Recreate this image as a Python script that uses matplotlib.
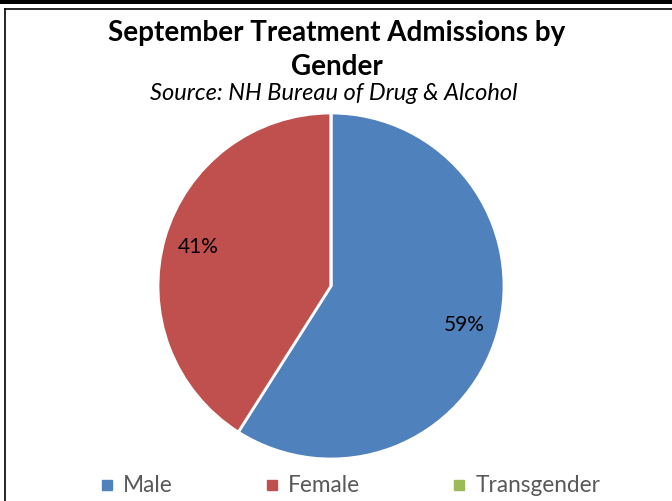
import matplotlib
matplotlib.use("Agg")
import matplotlib.pyplot as plt
from matplotlib.patches import Rectangle
from matplotlib.lines import Line2D

categories = ["Male", "Female", "Transgender"]
values = [59, 41, 0]
colors = ["#4F81BD", "#C0504D", "#9BBB59"]

plt.rcParams['font.family'] = ['Lato', 'DejaVu Sans']

W, H = 672, 501
fig = plt.figure(figsize=(W / 100, H / 100), dpi=100)

# frame
fig.add_artist(Rectangle((0, 1 - 4 / H), 1, 4 / H, transform=fig.transFigure,
                         facecolor="black", edgecolor="none"))
fig.add_artist(Line2D([4.5 / W, 4.5 / W], [0, 1 - 8.5 / H], transform=fig.transFigure,
                      color="black", lw=1.2))
fig.add_artist(Line2D([4.5 / W, 1], [1 - 8.5 / H, 1 - 8.5 / H], transform=fig.transFigure,
                      color="black", lw=1.2))

cx, cy, r = 331, 286, 173
ax = fig.add_axes([(cx - r) / W, (H - cy - r) / H, 2 * r / W, 2 * r / H])

def fmt(p):
    return f"{p:.0f}%" if p > 0.5 else ""

wedges, texts, autotexts = ax.pie(values, colors=colors, startangle=90, counterclock=False,
                                  autopct=fmt, pctdistance=0.8,
                                  wedgeprops=dict(edgecolor="white", linewidth=2),
                                  textprops=dict(fontsize=15, color="black"))
ax.set_xlim(-1, 1)
ax.set_ylim(-1, 1)
ax.set_aspect("equal")
ax.axis("off")

fig.text(337 / W, 1 - 33 / H, "September Treatment Admissions by", ha="center", va="center",
         fontsize=20, fontweight="bold")
fig.text(337 / W, 1 - 67 / H, "Gender", ha="center", va="center",
         fontsize=20, fontweight="bold")
fig.text(334 / W, 1 - 93 / H, "Source: NH Bureau of Drug & Alcohol", ha="center", va="center",
         fontsize=17, fontstyle="italic")

handles = [Line2D([], [], marker="s", linestyle="none", markersize=7, markerfacecolor=c,
                  markeredgecolor=c) for c in colors]
leg = fig.legend(handles, categories, loc="center", bbox_to_anchor=(349 / W, 1 - 486 / H),
                 ncol=3, frameon=False, fontsize=16.3, handletextpad=0.3, columnspacing=4.0,
                 handlelength=0.8)
for t in leg.get_texts():
    t.set_color("#595959")

fig.savefig("out.png", dpi=100)
